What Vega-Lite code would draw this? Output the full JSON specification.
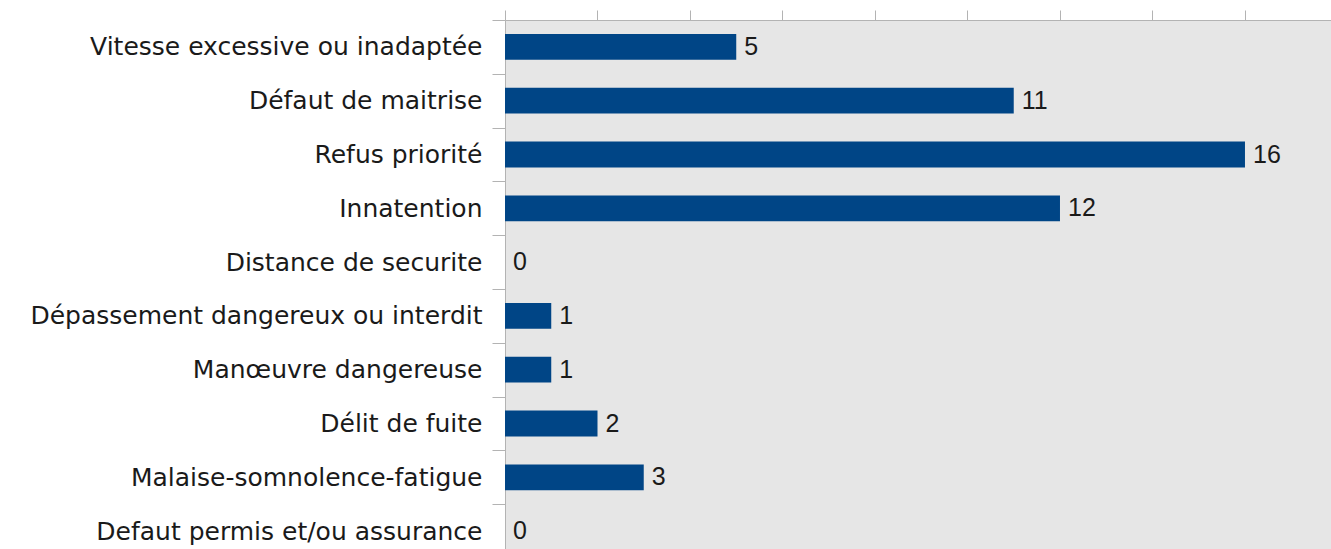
{
  "$schema": "https://vega.github.io/schema/vega-lite/v6.json",
  "autosize": "none",
  "padding": {"left": 505, "top": 20, "right": 0, "bottom": 0},
  "width": 826,
  "height": 529,
  "background": "#ffffff",
  "config": {
    "view": {"fill": "#e6e6e6", "stroke": null},
    "font": "Liberation Sans"
  },
  "data": {
    "values": [
      {"cause": "Vitesse excessive ou inadaptée", "n": 5},
      {"cause": "Défaut de maitrise", "n": 11},
      {"cause": "Refus priorité", "n": 16},
      {"cause": "Innatention", "n": 12},
      {"cause": "Distance de securite", "n": 0},
      {"cause": "Dépassement dangereux ou interdit", "n": 1},
      {"cause": "Manœuvre dangereuse", "n": 1},
      {"cause": "Délit de fuite", "n": 2},
      {"cause": "Malaise-somnolence-fatigue", "n": 3},
      {"cause": "Defaut permis et/ou assurance", "n": 0}
    ]
  },
  "encoding": {
    "y": {
      "field": "cause",
      "type": "nominal",
      "sort": null,
      "scale": {"range": [0, 538], "paddingInner": 0, "paddingOuter": 0},
      "axis": {
        "title": null,
        "tickBand": "extent",
        "tickSize": 13,
        "tickColor": "#b3b3b3",
        "domainColor": "#b3b3b3",
        "labelPadding": 10,
        "labelFont": "DejaVu Sans",
        "labelFontSize": 25,
        "labelColor": "#1a1a1a",
        "labelLimit": 600
      }
    },
    "x": {
      "field": "n",
      "type": "quantitative",
      "scale": {"domain": [0, 17.86], "nice": false},
      "axis": {
        "orient": "top",
        "title": null,
        "values": [0, 2, 4, 6, 8, 10, 12, 14, 16],
        "labels": false,
        "grid": false,
        "tickSize": 10,
        "tickColor": "#b3b3b3",
        "domainColor": "#b3b3b3"
      }
    }
  },
  "layer": [
    {
      "mark": {"type": "bar", "color": "#004586", "height": {"band": 0.48}}
    },
    {
      "mark": {"type": "text", "align": "left", "baseline": "middle", "dx": 8, "fontSize": 25, "color": "#1a1a1a"},
      "encoding": {"text": {"field": "n", "type": "quantitative"}}
    }
  ]
}
